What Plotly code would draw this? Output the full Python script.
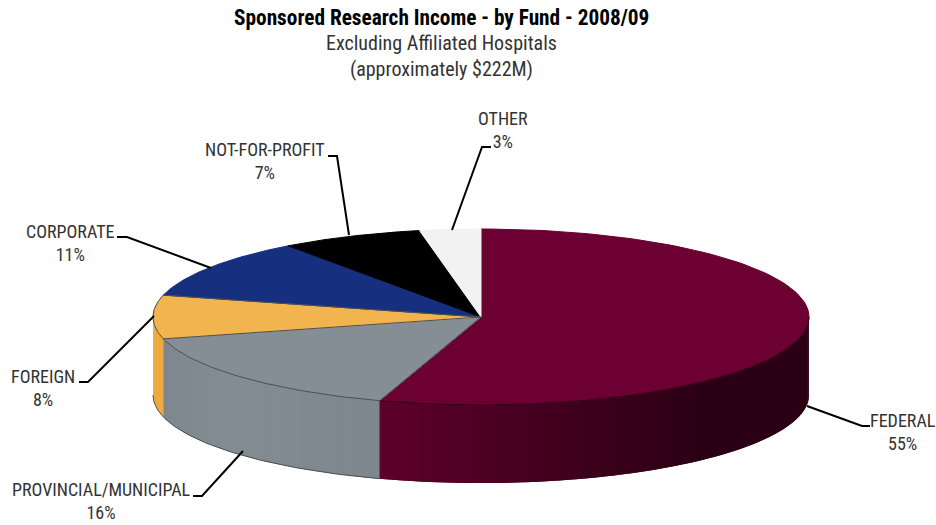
import numpy as np
import plotly.graph_objects as go

# Slice names and shares, clockwise from 12 o'clock
labels = ['FEDERAL', 'PROVINCIAL/MUNICIPAL', 'FOREIGN', 'CORPORATE', 'NOT-FOR-PROFIT', 'OTHER']
shares = [55, 16, 8, 11, 7, 3]

top_colors = ['#6c0032', '#848e94', '#f2b44e', '#16307f', '#000000', '#f2f2f2']
side_start = ['#5e002b', '#848d93', '#eeaa40', '#16307f', '#000000', '#f2f2f2']
side_end = ['#2c0014', '#7e878d', '#eeaa40', '#16307f', '#000000', '#f2f2f2']

# Pie geometry in page pixels
cx, cy, rx, ry, depth = 481, 317, 328, 88, 78

FONT = 'Roboto Condensed, Roboto, sans-serif'


def to_rgb(c):
    return np.array([int(c[i:i + 2], 16) for i in (1, 3, 5)])


def rim(angles):
    a = np.radians(angles)
    return cx + rx * np.sin(a), cy - ry * np.cos(a)


def add_line(fig, x, y, color):
    fig.add_trace(go.Scatter(x=x, y=y, mode='lines', line=dict(color=color, width=1),
                             hoverinfo='skip', showlegend=False))


fig = go.Figure()
edges = np.concatenate([[0], np.cumsum(shares) * 3.6])

# Side wall, only the part facing the viewer (90 to 270 degrees)
for i in range(len(shares)):
    start = max(edges[i], 90)
    stop = min(edges[i + 1], 270)
    if start >= stop:
        continue
    n = max(int(stop - start), 1)
    steps = np.linspace(start, stop, n + 1)
    for j in range(n):
        # Each strip runs on under its neighbour so no seams show
        x, y = rim(np.linspace(steps[j], min(steps[j + 1] + 1, stop), 4))
        # Federal darkens quickly towards the right of the wall, the others barely shade
        if i == 0:
            t = np.clip((x[1] - 378) / 320, 0, 1)
        else:
            t = abs(j / n - 0.5) * 2
        rgb = to_rgb(side_start[i]) * (1 - t) + to_rgb(side_end[i]) * t
        color = 'rgb(%d,%d,%d)' % tuple(rgb)
        fig.add_trace(go.Scatter(
            x=np.concatenate([x, x[::-1]]),
            y=np.concatenate([y, y[::-1] + depth]),
            mode='lines', fill='toself', fillcolor=color,
            line=dict(width=0), hoverinfo='skip', showlegend=False))

# Top face
for i in range(len(shares)):
    x, y = rim(np.linspace(edges[i], edges[i + 1], 120))
    fig.add_trace(go.Scatter(
        x=np.concatenate([[cx], x, [cx]]),
        y=np.concatenate([[cy], y, [cy]]),
        mode='lines', fill='toself', fillcolor=top_colors[i],
        line=dict(color=top_colors[i], width=1), hoverinfo='skip', showlegend=False))

# Thin dark edges: front rim of the top face, wall bottom, slice borders
x, y = rim(np.linspace(edges[1], edges[3], 100))
add_line(fig, x, y, '#4a5054')
x, y = rim(np.linspace(90, edges[1], 100))
add_line(fig, x, y, '#300016')
x, y = rim(np.linspace(edges[1], 270, 80))
add_line(fig, x, y + depth, '#4a5054')
for e in edges[1:4]:
    x, y = rim(np.array([e]))
    add_line(fig, [cx, x[0]], [cy, y[0]], '#4a5054')
x, y = rim(np.array([edges[1], edges[1]]))
add_line(fig, x, [y[0], y[1] + depth], '#4a5054')

# Leader lines, pixel positions
leaders = [
    [(807, 406), (862, 426), (870, 426)],
    [(243, 451), (202, 496), (193, 496)],
    [(154, 316), (88, 382), (79, 382)],
    [(211, 268), (127, 237), (117, 237)],
    [(349, 235), (337, 156), (328, 156)],
    [(452, 230), (482, 147), (491, 147)],
]
for pts in leaders:
    fig.add_shape(type='path', line=dict(color='#000000', width=2),
                  path='M ' + ' L '.join('%d %d' % p for p in pts))

# Label centres, pixel positions
label_pos = [(903, 432), (101, 501), (43, 388), (70, 243), (265, 161), (503, 130)]
for name, share, (x, y) in zip(labels, shares, label_pos):
    fig.add_annotation(x=x, y=y, text='%s<br>%d%%' % (name, share), showarrow=False,
                       font=dict(family=FONT, size=18, color='#333333'), align='center')

fig.add_annotation(x=441, y=17, text='<b>Sponsored Research Income - by Fund - 2008/09</b>',
                   showarrow=False, font=dict(family=FONT, size=21.3, color='#000000'))
fig.add_annotation(x=441, y=56, text='Excluding Affiliated Hospitals<br>(approximately $222M)',
                   showarrow=False, font=dict(family=FONT, size=20, color='#333333'))

fig.update_layout(
    width=936, height=525, margin=dict(l=0, r=0, t=0, b=0),
    paper_bgcolor='white', plot_bgcolor='white', showlegend=False,
    xaxis=dict(range=[0, 936], visible=False, fixedrange=True),
    yaxis=dict(range=[525, 0], visible=False, fixedrange=True),
)

# Drop the page's default body margin so the figure fills the window
fig.write_html("out.html", config={'displayModeBar': False},
               post_script="document.body.style.margin='0';")
